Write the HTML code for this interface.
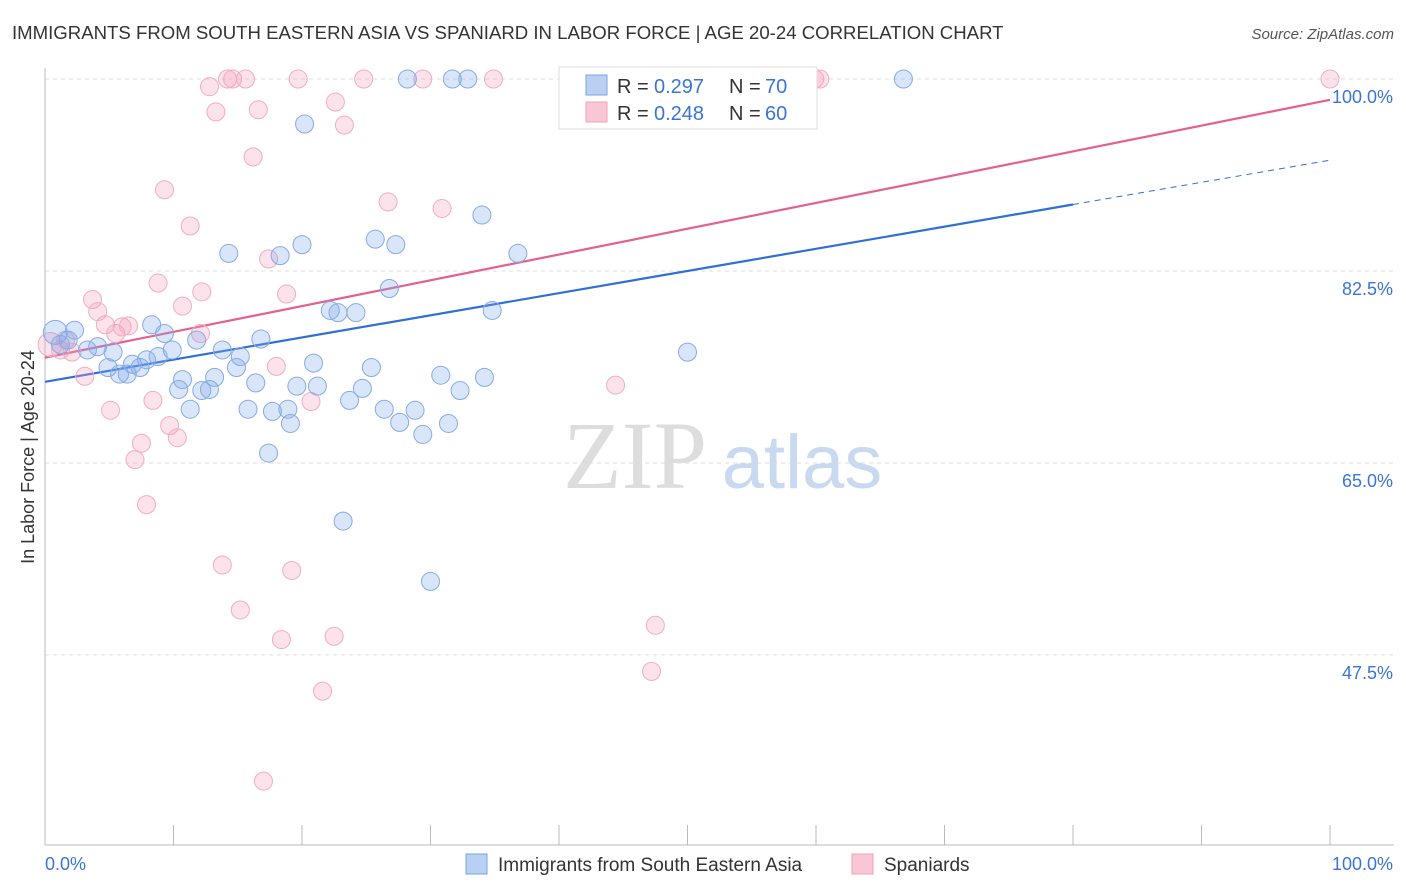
<!DOCTYPE html>
<html><head><meta charset="utf-8">
<style>
body{margin:0;background:#fff;font-family:"Liberation Sans",sans-serif;}
svg{display:block}
</style></head>
<body>
<svg id="chart" width="1406" height="892">
<text x="12" y="39" font-size="18.6" fill="#333">IMMIGRANTS FROM SOUTH EASTERN ASIA VS SPANIARD IN LABOR FORCE | AGE 20-24 CORRELATION CHART</text>
<text x="1394" y="39" font-size="15" fill="#555" font-style="italic" text-anchor="end">Source: ZipAtlas.com</text>
<g>
<text x="635" y="488" font-size="96" fill="#ddd" font-family="Liberation Serif,serif" text-anchor="middle">ZIP</text>
<text x="802" y="488" font-size="76" fill="#c9d9f0" text-anchor="middle">atlas</text>
</g>
<text transform="translate(34,457) rotate(-90)" font-size="18" fill="#333" text-anchor="middle">In Labor Force | Age 20-24</text>
<g id="grid"></g>
<g id="axes"></g>
<g id="trend"></g>
<g id="points"></g>
<g>
<rect x="559" y="67" width="258" height="62" fill="#fff" stroke="#ddd"/>
<rect x="586" y="75" width="21" height="20" fill="#b9d0f3" stroke="#7aa3e0"/>
<text x="617" y="93" font-size="20" fill="#333">R = </text>
<text x="654" y="93" font-size="20" fill="#3a74d6">0.297</text>
<text x="729" y="93" font-size="20" fill="#333">N = </text>
<text x="765" y="93" font-size="20" fill="#3a74d6">70</text>
<rect x="586" y="102" width="21" height="20" fill="#f9c6d6" stroke="#eea0b8"/>
<text x="617" y="120" font-size="20" fill="#333">R = </text>
<text x="654" y="120" font-size="20" fill="#3a74d6">0.248</text>
<text x="729" y="120" font-size="20" fill="#333">N = </text>
<text x="765" y="120" font-size="20" fill="#3a74d6">60</text>
</g>
<g>
<rect x="466" y="854" width="21" height="20" fill="#b9d0f3" stroke="#7aa3e0"/>
<text x="498" y="871" font-size="19" fill="#333">Immigrants from South Eastern Asia</text>
<rect x="852" y="854" width="21" height="20" fill="#f9c6d6" stroke="#eea0b8"/>
<text x="884" y="871" font-size="19" fill="#333">Spaniards</text>
</g>
</svg>
<script>
const blueX=[0.8,2.3,1.8,1.2,3.3,4.1,5.3,4.9,5.8,6.4,6.8,7.4,7.9,8.3,8.8,9.3,9.9,10.4,10.7,11.3,11.8,12.2,12.8,13.2,13.8,14.3,14.9,15.2,15.8,16.4,16.8,17.4,17.7,18.3,18.9,19.1,19.6,20.0,20.2,20.9,21.2,22.2,22.8,23.2,23.7,24.2,24.7,25.4,25.7,26.4,26.8,27.3,27.6,28.2,28.8,29.4,30.0,30.8,31.4,31.7,32.3,32.9,34.0,34.2,34.8,36.8,50.0,66.8];
const blueY=[76.9,77.1,76.2,75.8,75.3,75.6,75.1,73.7,73.1,73.1,74.0,73.7,74.4,77.6,74.7,76.8,75.3,71.7,72.6,69.9,76.2,71.6,71.7,72.8,75.3,84.1,73.7,74.7,69.9,72.3,76.3,65.9,69.7,83.9,69.9,68.6,72.0,84.9,95.9,74.1,72.0,78.9,78.7,59.7,70.7,78.7,71.8,73.7,85.4,69.9,80.9,84.9,68.7,100,69.8,67.6,54.2,73.0,68.6,100,71.6,100,87.6,72.8,78.9,84.1,75.1,100];
const pinkX=[0.4,1.2,1.6,2.1,3.1,3.7,4.1,4.7,5.1,5.5,6.0,6.5,7.0,7.5,7.9,8.4,8.8,9.3,9.7,10.3,10.7,11.3,12.1,12.2,12.8,13.3,13.8,14.2,14.6,15.2,15.6,16.2,16.6,17.0,17.4,18.0,18.4,18.8,19.2,19.7,20.7,21.6,22.5,22.6,23.3,24.8,26.7,29.4,30.9,34.9,44.4,47.2,47.5,45.5,52.1,59.9,60.3,100];
const pinkY=[75.8,75.3,76.2,75.1,72.9,79.9,78.8,77.6,69.8,76.8,77.4,77.5,65.3,66.8,61.2,70.7,81.4,89.9,68.4,67.3,79.3,86.6,76.8,80.6,99.3,97.0,55.7,100,100,51.6,100,92.9,97.2,36.0,83.6,73.8,48.9,80.4,55.2,100,70.6,44.2,49.2,97.9,95.8,100,88.8,100,88.2,100,72.1,46.0,50.2,100,100,100,100,100];
const yTicks=[100,82.5,65,47.5];
const yTickLabels=["100.0%","82.5%","65.0%","47.5%"];
const blueTrend=[72.4,92.6];
const pinkTrend=[74.6,98.1];
const NS="http://www.w3.org/2000/svg";
const sx=v=>45+v*12.85;
const sy=v=>79+(100-v)*10.97;
function mk(tag,attrs,parent){const e=document.createElementNS(NS,tag);for(const k in attrs)e.setAttribute(k,attrs[k]);parent.appendChild(e);return e;}
const grid=document.getElementById('grid'),axes=document.getElementById('axes'),trend=document.getElementById('trend'),pts=document.getElementById('points');
yTicks.forEach((t,i)=>{
 const l=mk('line',{x1:45,x2:1394,y1:sy(t),y2:sy(t),stroke:'#ddd','stroke-dasharray':'4,4'},grid);
 
 
 const tx=mk('text',{x:1393,y:sy(t)+24,'font-size':18,fill:'#3a74d6','text-anchor':'end'},axes);
 tx.textContent=yTickLabels[i];
 
 
});
let a=mk('line',{x1:45,x2:45,y1:68,y2:845,stroke:'#bbb'},axes);


a=mk('line',{x1:45,x2:1394,y1:845,y2:845,stroke:'#bbb'},axes);


for(let i=0;i<=10;i++){const t=mk('line',{x1:sx(i*10),x2:sx(i*10),y1:825,y2:845,stroke:'#bbb'},axes);
 
 }
let xl=mk('text',{x:45,y:870,'font-size':18,fill:'#3a74d6'},axes);xl.textContent='0.0%';


xl=mk('text',{x:1393,y:870,'font-size':18,fill:'#3a74d6','text-anchor':'end'},axes);xl.textContent='100.0%';


function ty(tr,x){return tr[0]+(tr[1]-tr[0])*x/100;}
let tl=mk('line',{x1:sx(0),y1:sy(ty(blueTrend,0)),x2:sx(80),y2:sy(ty(blueTrend,80)),stroke:'#2f6fd6','stroke-width':2.2},trend);


tl=mk('line',{x1:sx(80),y1:sy(ty(blueTrend,80)),x2:sx(100),y2:sy(ty(blueTrend,100)),stroke:'#2f6fd6','stroke-width':1,'stroke-dasharray':'6,5'},trend);


tl=mk('line',{x1:sx(0),y1:sy(ty(pinkTrend,0)),x2:sx(100),y2:sy(ty(pinkTrend,100)),stroke:'#e4608e','stroke-width':2.2},trend);


pinkX.forEach((x,i)=>{const c=mk('circle',{cx:sx(x),cy:sy(pinkY[i]),r:i==0?12:9,fill:'rgba(245,160,190,0.3)',stroke:'#f0adc2','stroke-width':1},pts);
 
 });
blueX.forEach((x,i)=>{const c=mk('circle',{cx:sx(x),cy:sy(blueY[i]),r:i==0?12:9,fill:'rgba(130,170,235,0.3)',stroke:'#86abe3','stroke-width':1},pts);
 
 });
</script>
</body></html>
